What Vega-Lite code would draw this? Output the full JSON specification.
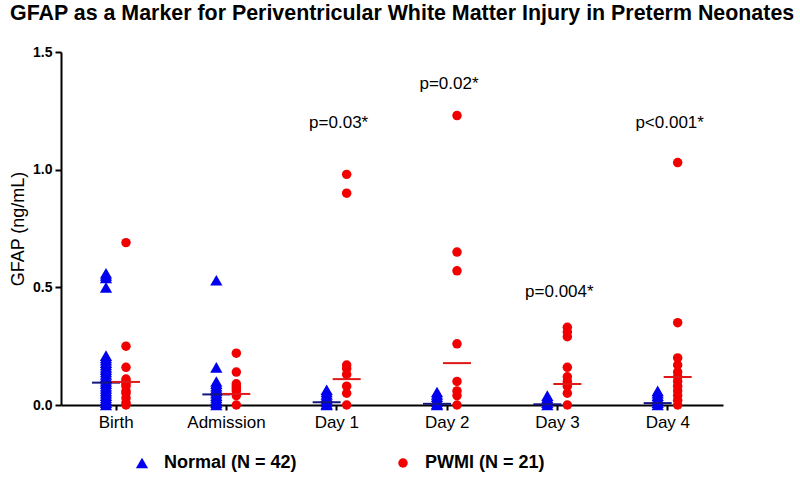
{
  "$schema": "https://vega.github.io/schema/vega-lite/v6.json",
  "autosize": "none",
  "width": 662,
  "height": 353,
  "padding": {"left": 61, "top": 52, "right": 77, "bottom": 84},
  "background": "white",
  "config": {"view": {"stroke": null}, "font": "Liberation Sans"},
  "title": {"text": "GFAP as a Marker for Periventricular White Matter Injury in Preterm Neonates", "anchor": "start", "frame": "group", "dx": -51, "offset": 21, "font": "Liberation Sans", "fontSize": 21.4, "fontWeight": "bold", "color": "black"},
  "datasets": {
    "pts": [
      {"day": "Birth", "group": "Normal (N = 42)", "v": 0.56}, {"day": "Birth", "group": "Normal (N = 42)", "v": 0.55}, {"day": "Birth", "group": "Normal (N = 42)", "v": 0.54}, {"day": "Birth", "group": "Normal (N = 42)", "v": 0.5},
      {"day": "Birth", "group": "Normal (N = 42)", "v": 0.21}, {"day": "Birth", "group": "Normal (N = 42)", "v": 0.2}, {"day": "Birth", "group": "Normal (N = 42)", "v": 0.19}, {"day": "Birth", "group": "Normal (N = 42)", "v": 0.18},
      {"day": "Birth", "group": "Normal (N = 42)", "v": 0.17}, {"day": "Birth", "group": "Normal (N = 42)", "v": 0.16}, {"day": "Birth", "group": "Normal (N = 42)", "v": 0.15}, {"day": "Birth", "group": "Normal (N = 42)", "v": 0.14},
      {"day": "Birth", "group": "Normal (N = 42)", "v": 0.13}, {"day": "Birth", "group": "Normal (N = 42)", "v": 0.12}, {"day": "Birth", "group": "Normal (N = 42)", "v": 0.11}, {"day": "Birth", "group": "Normal (N = 42)", "v": 0.1},
      {"day": "Birth", "group": "Normal (N = 42)", "v": 0.09}, {"day": "Birth", "group": "Normal (N = 42)", "v": 0.08}, {"day": "Birth", "group": "Normal (N = 42)", "v": 0.07}, {"day": "Birth", "group": "Normal (N = 42)", "v": 0.06},
      {"day": "Birth", "group": "Normal (N = 42)", "v": 0.05}, {"day": "Birth", "group": "Normal (N = 42)", "v": 0.04}, {"day": "Birth", "group": "Normal (N = 42)", "v": 0.03}, {"day": "Birth", "group": "Normal (N = 42)", "v": 0.02},
      {"day": "Birth", "group": "Normal (N = 42)", "v": 0.01}, {"day": "Birth", "group": "Normal (N = 42)", "v": 0.0},
      {"day": "Birth", "group": "PWMI (N = 21)", "v": 0.69}, {"day": "Birth", "group": "PWMI (N = 21)", "v": 0.25}, {"day": "Birth", "group": "PWMI (N = 21)", "v": 0.16}, {"day": "Birth", "group": "PWMI (N = 21)", "v": 0.11},
      {"day": "Birth", "group": "PWMI (N = 21)", "v": 0.1}, {"day": "Birth", "group": "PWMI (N = 21)", "v": 0.09}, {"day": "Birth", "group": "PWMI (N = 21)", "v": 0.08}, {"day": "Birth", "group": "PWMI (N = 21)", "v": 0.06},
      {"day": "Birth", "group": "PWMI (N = 21)", "v": 0.05}, {"day": "Birth", "group": "PWMI (N = 21)", "v": 0.03}, {"day": "Birth", "group": "PWMI (N = 21)", "v": 0.01}, {"day": "Birth", "group": "PWMI (N = 21)", "v": 0.0},
      {"day": "Admission", "group": "Normal (N = 42)", "v": 0.53}, {"day": "Admission", "group": "Normal (N = 42)", "v": 0.16}, {"day": "Admission", "group": "Normal (N = 42)", "v": 0.1}, {"day": "Admission", "group": "Normal (N = 42)", "v": 0.09},
      {"day": "Admission", "group": "Normal (N = 42)", "v": 0.08}, {"day": "Admission", "group": "Normal (N = 42)", "v": 0.07}, {"day": "Admission", "group": "Normal (N = 42)", "v": 0.06}, {"day": "Admission", "group": "Normal (N = 42)", "v": 0.05},
      {"day": "Admission", "group": "Normal (N = 42)", "v": 0.04}, {"day": "Admission", "group": "Normal (N = 42)", "v": 0.03}, {"day": "Admission", "group": "Normal (N = 42)", "v": 0.02}, {"day": "Admission", "group": "Normal (N = 42)", "v": 0.01},
      {"day": "Admission", "group": "Normal (N = 42)", "v": 0.0},
      {"day": "Admission", "group": "PWMI (N = 21)", "v": 0.22}, {"day": "Admission", "group": "PWMI (N = 21)", "v": 0.14}, {"day": "Admission", "group": "PWMI (N = 21)", "v": 0.09}, {"day": "Admission", "group": "PWMI (N = 21)", "v": 0.08},
      {"day": "Admission", "group": "PWMI (N = 21)", "v": 0.07}, {"day": "Admission", "group": "PWMI (N = 21)", "v": 0.06}, {"day": "Admission", "group": "PWMI (N = 21)", "v": 0.04}, {"day": "Admission", "group": "PWMI (N = 21)", "v": 0.0},
      {"day": "Day 1", "group": "Normal (N = 42)", "v": 0.065}, {"day": "Day 1", "group": "Normal (N = 42)", "v": 0.055}, {"day": "Day 1", "group": "Normal (N = 42)", "v": 0.045}, {"day": "Day 1", "group": "Normal (N = 42)", "v": 0.035},
      {"day": "Day 1", "group": "Normal (N = 42)", "v": 0.025}, {"day": "Day 1", "group": "Normal (N = 42)", "v": 0.015}, {"day": "Day 1", "group": "Normal (N = 42)", "v": 0.005}, {"day": "Day 1", "group": "Normal (N = 42)", "v": 0.0},
      {"day": "Day 1", "group": "PWMI (N = 21)", "v": 0.98}, {"day": "Day 1", "group": "PWMI (N = 21)", "v": 0.9}, {"day": "Day 1", "group": "PWMI (N = 21)", "v": 0.17}, {"day": "Day 1", "group": "PWMI (N = 21)", "v": 0.155},
      {"day": "Day 1", "group": "PWMI (N = 21)", "v": 0.13}, {"day": "Day 1", "group": "PWMI (N = 21)", "v": 0.08}, {"day": "Day 1", "group": "PWMI (N = 21)", "v": 0.05}, {"day": "Day 1", "group": "PWMI (N = 21)", "v": 0.0},
      {"day": "Day 2", "group": "Normal (N = 42)", "v": 0.055}, {"day": "Day 2", "group": "Normal (N = 42)", "v": 0.045}, {"day": "Day 2", "group": "Normal (N = 42)", "v": 0.035}, {"day": "Day 2", "group": "Normal (N = 42)", "v": 0.025},
      {"day": "Day 2", "group": "Normal (N = 42)", "v": 0.015}, {"day": "Day 2", "group": "Normal (N = 42)", "v": 0.005}, {"day": "Day 2", "group": "Normal (N = 42)", "v": 0.0},
      {"day": "Day 2", "group": "PWMI (N = 21)", "v": 1.23}, {"day": "Day 2", "group": "PWMI (N = 21)", "v": 0.65}, {"day": "Day 2", "group": "PWMI (N = 21)", "v": 0.57}, {"day": "Day 2", "group": "PWMI (N = 21)", "v": 0.26},
      {"day": "Day 2", "group": "PWMI (N = 21)", "v": 0.1}, {"day": "Day 2", "group": "PWMI (N = 21)", "v": 0.06}, {"day": "Day 2", "group": "PWMI (N = 21)", "v": 0.04}, {"day": "Day 2", "group": "PWMI (N = 21)", "v": 0.0},
      {"day": "Day 3", "group": "Normal (N = 42)", "v": 0.04}, {"day": "Day 3", "group": "Normal (N = 42)", "v": 0.03}, {"day": "Day 3", "group": "Normal (N = 42)", "v": 0.02}, {"day": "Day 3", "group": "Normal (N = 42)", "v": 0.01},
      {"day": "Day 3", "group": "Normal (N = 42)", "v": 0.0},
      {"day": "Day 3", "group": "PWMI (N = 21)", "v": 0.33}, {"day": "Day 3", "group": "PWMI (N = 21)", "v": 0.31}, {"day": "Day 3", "group": "PWMI (N = 21)", "v": 0.29}, {"day": "Day 3", "group": "PWMI (N = 21)", "v": 0.16},
      {"day": "Day 3", "group": "PWMI (N = 21)", "v": 0.12}, {"day": "Day 3", "group": "PWMI (N = 21)", "v": 0.1}, {"day": "Day 3", "group": "PWMI (N = 21)", "v": 0.08}, {"day": "Day 3", "group": "PWMI (N = 21)", "v": 0.05},
      {"day": "Day 3", "group": "PWMI (N = 21)", "v": 0.0},
      {"day": "Day 4", "group": "Normal (N = 42)", "v": 0.06}, {"day": "Day 4", "group": "Normal (N = 42)", "v": 0.05}, {"day": "Day 4", "group": "Normal (N = 42)", "v": 0.04}, {"day": "Day 4", "group": "Normal (N = 42)", "v": 0.03},
      {"day": "Day 4", "group": "Normal (N = 42)", "v": 0.02}, {"day": "Day 4", "group": "Normal (N = 42)", "v": 0.01}, {"day": "Day 4", "group": "Normal (N = 42)", "v": 0.0},
      {"day": "Day 4", "group": "PWMI (N = 21)", "v": 1.03}, {"day": "Day 4", "group": "PWMI (N = 21)", "v": 0.35}, {"day": "Day 4", "group": "PWMI (N = 21)", "v": 0.2}, {"day": "Day 4", "group": "PWMI (N = 21)", "v": 0.17},
      {"day": "Day 4", "group": "PWMI (N = 21)", "v": 0.14}, {"day": "Day 4", "group": "PWMI (N = 21)", "v": 0.12}, {"day": "Day 4", "group": "PWMI (N = 21)", "v": 0.1}, {"day": "Day 4", "group": "PWMI (N = 21)", "v": 0.08},
      {"day": "Day 4", "group": "PWMI (N = 21)", "v": 0.06}, {"day": "Day 4", "group": "PWMI (N = 21)", "v": 0.04}, {"day": "Day 4", "group": "PWMI (N = 21)", "v": 0.02}, {"day": "Day 4", "group": "PWMI (N = 21)", "v": 0.0}
    ],
    "medians": [
      {"day": "Birth", "group": "Normal (N = 42)", "median": 0.095},
      {"day": "Admission", "group": "Normal (N = 42)", "median": 0.045},
      {"day": "Day 1", "group": "Normal (N = 42)", "median": 0.012},
      {"day": "Day 2", "group": "Normal (N = 42)", "median": 0.005},
      {"day": "Day 3", "group": "Normal (N = 42)", "median": 0.003},
      {"day": "Day 4", "group": "Normal (N = 42)", "median": 0.008},
      {"day": "Birth", "group": "PWMI (N = 21)", "median": 0.098},
      {"day": "Admission", "group": "PWMI (N = 21)", "median": 0.047},
      {"day": "Day 1", "group": "PWMI (N = 21)", "median": 0.11},
      {"day": "Day 2", "group": "PWMI (N = 21)", "median": 0.178},
      {"day": "Day 3", "group": "PWMI (N = 21)", "median": 0.089},
      {"day": "Day 4", "group": "PWMI (N = 21)", "median": 0.119}
    ],
    "notes": [
      {"day": "Day 1", "group": "PWMI (N = 21)", "y": 1.2, "label": "p=0.03*"},
      {"day": "Day 2", "group": "PWMI (N = 21)", "y": 1.365, "label": "p=0.02*"},
      {"day": "Day 3", "group": "PWMI (N = 21)", "y": 0.48, "label": "p=0.004*"},
      {"day": "Day 4", "group": "PWMI (N = 21)", "y": 1.2, "label": "p<0.001*"}
    ]
  },
  "encoding": {
    "x": {"field": "day", "type": "nominal", "sort": ["Birth", "Admission", "Day 1", "Day 2", "Day 3", "Day 4"],
      "scale": {"type": "band", "paddingInner": 0, "paddingOuter": 0},
      "axis": {"title": null, "labelAngle": 0, "labelFontSize": 17, "labelColor": "black", "labelPadding": 4, "domainColor": "black", "domainWidth": 2, "tickColor": "black", "tickWidth": 2, "tickSize": 5, "labelFont": "Liberation Sans"}},
    "xOffset": {"field": "group", "type": "nominal", "scale": {"type": "point", "domain": ["Normal (N = 42)", "PWMI (N = 21)"], "range": [35, 75]}}
  },
  "layer": [
    {
      "data": {"name": "pts"},
      "mark": {"type": "point", "filled": true, "opacity": 1},
      "encoding": {
        "y": {"field": "v", "type": "quantitative", "scale": {"domain": [0, 1.5], "nice": false, "zero": true},
          "axis": {"title": "GFAP (ng/mL)", "titleFontSize": 18, "titleFontWeight": "normal", "titleColor": "black", "titlePadding": 5, "values": [0, 0.5, 1, 1.5], "format": ".1f", "labelFontSize": 14, "labelFontWeight": "bold", "labelColor": "black", "labelPadding": 3, "grid": false, "domainColor": "black", "domainWidth": 2, "tickColor": "black", "tickWidth": 2, "tickSize": 6}},
        "color": {"field": "group", "type": "nominal", "scale": {"domain": ["Normal (N = 42)", "PWMI (N = 21)"], "range": ["#0000ee", "#f20000"]},
          "legend": {"title": null, "orient": "none", "legendX": 72, "legendY": 402, "direction": "horizontal", "labelFont": "Liberation Sans", "labelFontSize": 18, "labelFontWeight": "bold", "labelColor": "black", "symbolSize": 110, "labelOffset": 13, "columnPadding": 97, "labelLimit": 300, "symbolOpacity": 1}},
        "shape": {"field": "group", "type": "nominal", "scale": {"domain": ["Normal (N = 42)", "PWMI (N = 21)"], "range": ["triangle-up", "circle"]},
          "legend": {"title": null, "orient": "none", "legendX": 72, "legendY": 402, "direction": "horizontal", "labelFont": "Liberation Sans", "labelFontSize": 18, "labelFontWeight": "bold", "labelColor": "black", "symbolSize": 110, "labelOffset": 13, "columnPadding": 97, "labelLimit": 300, "symbolOpacity": 1}},
        "size": {"field": "group", "type": "nominal", "scale": {"domain": ["Normal (N = 42)", "PWMI (N = 21)"], "range": [150, 90]}, "legend": null}
      }
    },
    {
      "data": {"name": "medians"},
      "transform": [{"filter": "datum.group === 'Normal (N = 42)'"}],
      "mark": {"type": "tick", "orient": "horizontal", "size": 28, "thickness": 2, "opacity": 1, "color": "#161680"},
      "encoding": {
        "y": {"field": "median", "type": "quantitative"}
      }
    },
    {
      "data": {"name": "medians"},
      "transform": [{"filter": "datum.group === 'PWMI (N = 21)'"}],
      "mark": {"type": "tick", "orient": "horizontal", "size": 28, "thickness": 2, "opacity": 1, "color": "#e01818"},
      "encoding": {
        "y": {"field": "median", "type": "quantitative"}
      }
    },
    {
      "data": {"name": "notes"},
      "mark": {"type": "text", "fontSize": 17, "color": "black", "dx": -8, "align": "center", "baseline": "middle"},
      "encoding": {
        "y": {"field": "y", "type": "quantitative"},
        "text": {"field": "label"}
      }
    }
  ]
}
